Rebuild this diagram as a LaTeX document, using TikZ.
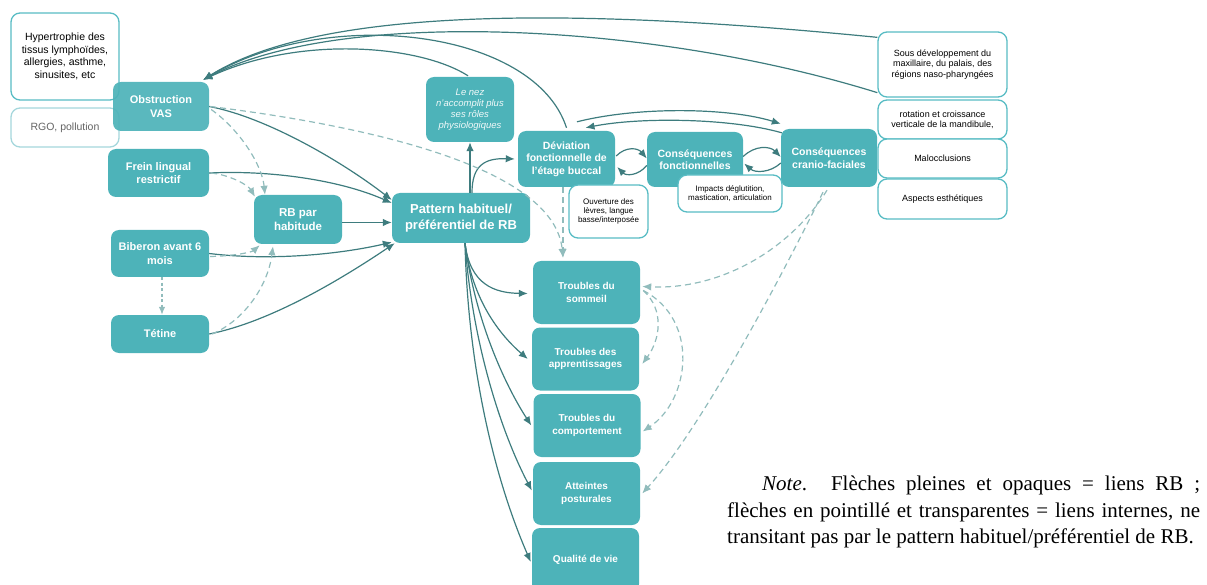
\documentclass[tikz,border=0pt]{standalone}
\usepackage{fontspec}
\setmainfont{Liberation Sans}
\newfontfamily\notefont{Liberation Serif}
\usetikzlibrary{arrows.meta,calc}
\definecolor{tealc}{RGB}{77,179,185}
\definecolor{arrowc}{RGB}{62,124,126}
\definecolor{dashc}{RGB}{145,188,188}
\definecolor{bordc}{RGB}{88,188,196}
\definecolor{lightbord}{RGB}{165,215,220}
\definecolor{graytext}{RGB}{100,100,100}
\tikzset{
  tbox/.style={fill=tealc, rounded corners=8pt, text=white, align=center, inner sep=2pt,
    font=\bfseries\fontsize{11}{13.5}\selectfont},
  wbox/.style={draw=bordc, line width=1.3pt, fill=white, rounded corners=9pt, text=black, align=center, inner sep=2pt},
  rbl/.style={draw=arrowc, line width=1.2pt, -{Latex[length=9pt,width=7.5pt]}},
  inl/.style={draw=dashc, line width=1.2pt, dash pattern=on 6pt off 4pt, -{Latex[length=9pt,width=7.5pt]}},
  dotl/.style={draw=dashc, line width=1.2pt, dash pattern=on 3pt off 2.5pt, -{Latex[length=8pt,width=6.5pt]}}
}
\begin{document}
\begin{tikzpicture}[x=1pt,y=-1pt]
\useasboundingbox (0,0) rectangle (1207,585);
% left white boxes
\node[wbox, minimum width=108, minimum height=87, font=\fontsize{10.5}{12.7}\selectfont] (hyp) at (65,56.5)
  {Hypertrophie des\\tissus lymphoïdes,\\allergies, asthme,\\sinusites, etc};
\node[wbox, draw=lightbord, minimum width=108, minimum height=39, text=graytext, font=\fontsize{10.5}{12.7}\selectfont] (rgo) at (65,127.5)
  {RGO, pollution};
% teal boxes left
\node[tbox, fill opacity=0.93, text opacity=1, minimum width=96, minimum height=49] (obs) at (161,106.5) {Obstruction\\VAS};
\node[tbox, minimum width=101, minimum height=48] (frein) at (158.5,173) {Frein lingual\\restrictif};
\node[tbox, minimum width=98, minimum height=47] (bib) at (160,253.5) {Biberon avant 6\\mois};
\node[tbox, minimum width=98, minimum height=38] (tet) at (160,334) {Tétine};
\node[tbox, minimum width=88, minimum height=49, font=\bfseries\fontsize{11.5}{14}\selectfont] (rbh) at (298,219.5) {RB par\\habitude};
\node[tbox, minimum width=138, minimum height=50, font=\bfseries\fontsize{13}{15.5}\selectfont] (pat) at (461,218) {Pattern habituel/\\préférentiel de RB};
\node[tbox, minimum width=88, minimum height=65, font=\itshape\fontsize{9.5}{11}\selectfont, text=white!92!tealc] (nez) at (470,109.5)
  {Le nez\\n’accomplit plus\\ses rôles\\physiologiques};
\node[tbox, minimum width=97, minimum height=56, font=\bfseries\fontsize{10.5}{12.5}\selectfont] (dev) at (566.5,159)
  {Déviation\\fonctionnelle de\\l’étage buccal};
\node[tbox, minimum width=96, minimum height=55, font=\bfseries\fontsize{10.5}{12.5}\selectfont] (cf) at (695,159.5)
  {Conséquences\\fonctionnelles};
\node[tbox, minimum width=96, minimum height=58, font=\bfseries\fontsize{10.5}{12.5}\selectfont] (ccf) at (829,158)
  {Conséquences\\cranio-faciales};
\node[wbox, minimum width=79, minimum height=53, font=\fontsize{8}{9.3}\selectfont] (ouv) at (608.5,211.5)
  {Ouverture des\\lèvres, langue\\basse/interposée};
\node[wbox, minimum width=104, minimum height=37, font=\fontsize{8}{9.3}\selectfont] (imp) at (730,193.5)
  {Impacts déglutition,\\mastication, articulation};
% right white boxes
\node[wbox, minimum width=129, minimum height=65, font=\fontsize{9}{10.3}\selectfont] (sous) at (942.5,64.5)
  {Sous développement du\\maxillaire, du palais, des\\régions naso-pharyngées};
\node[wbox, minimum width=129, minimum height=39, font=\fontsize{9}{10.3}\selectfont] (rot) at (942.5,119.5)
  {rotation et croissance\\verticale de la mandibule,};
\node[wbox, minimum width=129, minimum height=39, font=\fontsize{9}{10.3}\selectfont] (mal) at (942.5,158.5)
  {Malocclusions};
\node[wbox, minimum width=129, minimum height=40, font=\fontsize{9}{10.3}\selectfont] (asp) at (942.5,199)
  {Aspects esthétiques};
% outcome boxes
\tikzset{obox/.style={tbox, minimum width=107, minimum height=63, font=\bfseries\fontsize{10}{12.3}\selectfont}}
\node[obox] (som) at (586.5,292.5) {Troubles du\\sommeil};
\node[obox] (app) at (585.5,359) {Troubles des\\apprentissages};
\node[obox] (comp) at (587,425.5) {Troubles du\\comportement};
\node[obox] (post) at (586.5,493.5) {Atteintes\\posturales};
\node[obox, minimum height=64] (qual) at (585.5,560) {Qualité de vie};
% note
\node[anchor=north west, inner sep=0pt, text width=473pt, align=justify,
      font=\notefont\fontsize{21}{26.3}\selectfont] (note) at (727,476)
  {\hspace*{35pt}\textit{Note}. Flèches pleines et opaques = liens RB~;\linebreak
   flèches en pointillé et transparentes = liens internes, ne\linebreak
   transitant pas par le pattern habituel/préférentiel de RB.};
% ---- solid RB links
\draw[rbl] (obs.east) .. controls (265,117) and (340,160) .. ($(pat.west)+(0,-18)$);
\draw[rbl] (frein.east) .. controls (270,170) and (340,180) .. ($(pat.west)+(0,-15)$);
\coordinate (rbhout) at ($(rbh.east)+(0,3)$);
\draw[rbl] (rbhout) -- (rbhout -| pat.west);
\draw[rbl] (bib.east) .. controls (280,262) and (350,252) .. ($(pat.south west)+(0,-1)$);
\draw[rbl] (tet.east) .. controls (270,322) and (340,280) .. ($(pat.south west)+(3,0)$);
\draw[rbl] (pat.north -| nez.south) -- (nez.south);
\draw[rbl] ($(pat.north)+(11,0)$) .. controls (472,165) and (485,158) .. ($(dev.west)+(-3,0)$);
% dev <-> cf
\draw[rbl] ($(dev.east)+(1,-3)$) .. controls (626,146) and (638,148) .. ($(cf.west)+(0,-1)$);
\draw[rbl] ($(cf.west)+(0,6)$) .. controls (638,176) and (626,176) .. ($(dev.east)+(2,8)$);
% cf <-> ccf
\draw[rbl] ($(cf.east)+(0,-3)$) .. controls (755,145) and (770,146) .. ($(ccf.west)+(0,-1)$);
\draw[rbl] ($(ccf.west)+(0,5)$) .. controls (770,173) and (755,173) .. ($(cf.east)+(1,4)$);
% dev <-> ccf
\draw[rbl] ($(dev.north)+(10.5,-9)$) .. controls (640,106) and (730,108) .. ($(ccf.north west)+(0,-5)$);
\draw[rbl] ($(ccf.north west)+(1,4)$) .. controls (730,118) and (640,117) .. ($(dev.north)+(19,-3)$);
% back to obstruction
\draw[rbl] ($(sous.north west)+(0,6)$) .. controls (620,12) and (330,0) .. ($(obs.north east)+(-6,-2)$);
\draw[rbl] ($(sous.south west)+(0,-5)$) .. controls (650,22) and (340,8) .. ($(obs.north east)+(-6,-2)$);
\draw[rbl] ($(dev.north)+(0,-3)$) .. controls (535,30) and (330,5) .. ($(obs.north east)+(-6,-2)$);
\draw[rbl] ($(nez.north)+(-2,-1)$) .. controls (420,45) and (300,35) .. ($(obs.north east)+(-6,-2)$);
% pattern to outcomes
\draw[rbl] ($(pat.south)+(4,0)$) .. controls (470,285) and (495,293) .. ($(som.west)+(-5,1)$);
\draw[rbl] ($(pat.south)+(4,0)$) .. controls (472,300) and (500,335) .. ($(app.west)+(-4,0)$);
\draw[rbl] ($(pat.south)+(4,0)$) .. controls (475,320) and (505,385) .. ($(comp.west)+(-2,0)$);
\draw[rbl] ($(pat.south)+(4,0)$) .. controls (472,340) and (500,430) .. ($(post.west)+(-1,-3)$);
\draw[rbl] ($(pat.south)+(4,0)$) .. controls (468,370) and (495,480) .. ($(qual.west)+(-1,2)$);
% ---- dashed internal links
\draw[inl] ($(obs.east)+(2,3)$) .. controls (240,130) and (262,165) .. ($(rbh.north)+(-33,0)$);
\draw[inl] ($(frein.east)+(2,0)$) .. controls (230,175) and (248,185) .. ($(rbh.north)+(-43,2)$);
\draw[inl] ($(obs.east)+(1,0)$) .. controls (400,130) and (555,175) .. ($(som.north)+(-23.5,-3)$);
\draw[inl] ($(dev.south)+(-3.5,0)$) -- ($(som.north)+(-23.5,-3)$);
\draw[inl] ($(bib.east)+(1,3)$) .. controls (235,256) and (252,252) .. ($(rbh.south west)+(6,1)$);
\draw[inl] ($(tet.east)+(3,0)$) .. controls (245,320) and (268,285) .. ($(rbh.south)+(-25,2)$);
\draw[dotl] ($(bib.south)+(2,0)$) -- ($(tet.north)+(2,0)$);
\draw[inl] ($(ccf.south)+(-2,3)$) .. controls (790,250) and (720,290) .. ($(som.east)+(2,-6)$);
\draw[inl] ($(ccf.south)+(-6,5)$) .. controls (780,280) and (700,430) .. ($(post.east)+(2,0)$);
\draw[inl] ($(som.east)+(3,-2)$) .. controls (665,310) and (660,340) .. ($(app.east)+(3,5)$);
\draw[inl] ($(som.east)+(3,-2)$) .. controls (700,320) and (690,400) .. ($(comp.east)+(2,6)$);
\end{tikzpicture}
\end{document}
